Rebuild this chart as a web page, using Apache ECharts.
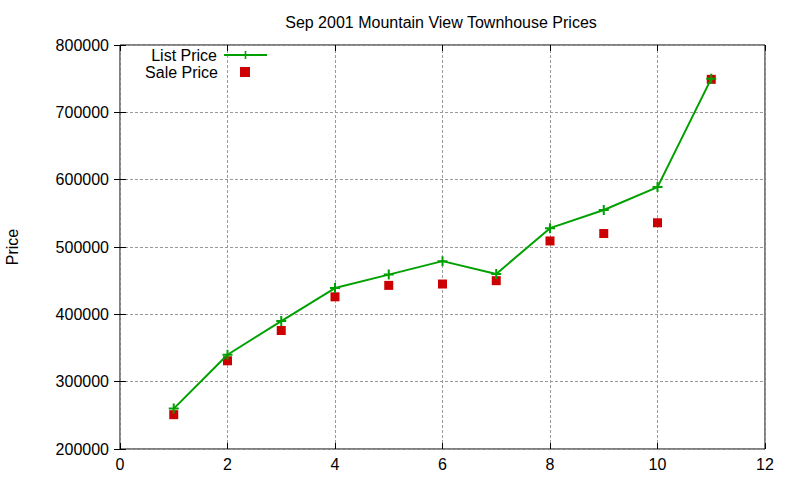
<!DOCTYPE html>
<html>
<head>
  <meta charset="UTF-8">
  <title>Sep 2001 Mountain View Townhouse Prices</title>
  <script src="https://cdn.jsdelivr.net/npm/echarts@6/dist/echarts.min.js"></script>
  <style>
    html, body { margin: 0; padding: 0; background: #fff; }
    #main { width: 800px; height: 480px; }
  </style>
</head>
<body>
  <div id="main"></div>
<script>
  // values
  const houseIndex = [1, 2, 3, 4, 5, 6, 7, 8, 9, 10, 11];
  const listPrice = [260000, 340000, 390000, 439000, 459000, 479000, 460000, 528000, 555000, 589000, 750000];
  const salePrice = [251000, 331000, 376000, 426000, 443000, 445000, 450000, 509000, 520000, 536000, 749000];

  const font = '"Liberation Sans", Arial, sans-serif';
  const green = '#00a000';
  const red = '#cc0000';
  const plus = 'path://M4,0h2v4h4v2h-4v4h-2v-4h-4v-2h4z';

  const gridLine = { show: true, lineStyle: { color: '#999', type: [3, 2], width: 1 } };
  const tickIn = { show: true, inside: true, length: 6, lineStyle: { color: '#000' } };
  const labelText = { color: '#000', fontSize: 16, fontFamily: font };

  const chart = echarts.init(document.getElementById('main'), null, { renderer: 'svg' });
  chart.setOption({
    animation: false,
    textStyle: { fontFamily: font },
    title: {
      text: 'Sep 2001 Mountain View Townhouse Prices',
      left: 436, top: 9, textAlign: 'center',
      textStyle: { fontFamily: font, fontSize: 16, fontWeight: 'normal', color: '#000' }
    },
    grid: {
      left: 120, right: 35, top: 45, bottom: 31, outerBoundsMode: 'none', containLabel: false,
      show: true, borderColor: '#000', borderWidth: 1
    },
    legend: [
      {
        data: ['List Price'], right: 527, top: 42, align: 'right',
        itemWidth: 43, itemHeight: 10, itemGap: 0,
        textStyle: { fontFamily: font, fontSize: 16, color: '#000', padding: [0, 2, 0, 0] }
      },
      {
        data: [{ name: 'Sale Price', icon: 'rect' }], right: 545, top: 59, align: 'right',
        itemWidth: 10, itemHeight: 10, itemGap: 0,
        textStyle: { fontFamily: font, fontSize: 16, color: '#000', padding: [0, 17, 0, 0] }
      }
    ],
    xAxis: [
      {
        type: 'value', min: 0, max: 12, interval: 2, position: 'bottom',
        axisLine: { show: false }, axisTick: tickIn, splitLine: gridLine,
        axisLabel: Object.assign({ margin: 7 }, labelText)
      },
      {
        type: 'value', min: 0, max: 12, interval: 2, position: 'top',
        axisLine: { show: false }, axisTick: tickIn, splitLine: { show: false },
        axisLabel: { show: false }
      }
    ],
    yAxis: [
      {
        type: 'value', min: 200000, max: 800000, interval: 100000, position: 'left',
        name: 'Price', nameLocation: 'middle', nameGap: 100, nameRotate: 90,
        nameTextStyle: labelText,
        axisLine: { show: false }, axisTick: tickIn, splitLine: gridLine,
        axisLabel: Object.assign({ margin: 11, formatter: v => String(v) }, labelText)
      },
      {
        type: 'value', min: 200000, max: 800000, interval: 100000, position: 'right',
        axisLine: { show: false }, axisTick: tickIn, splitLine: { show: false },
        axisLabel: { show: false }
      }
    ],
    series: [
      {
        name: 'List Price', type: 'line',
        data: houseIndex.map((x, i) => [x, listPrice[i]]),
        symbol: plus, symbolSize: 10, showAllSymbol: true,
        lineStyle: { color: green, width: 2 },
        itemStyle: { color: green }
      },
      {
        name: 'Sale Price', type: 'scatter',
        data: houseIndex.map((x, i) => [x, salePrice[i]]),
        symbol: 'rect', symbolSize: 9,
        itemStyle: { color: red, opacity: 1 }
      }
    ]
  });
</script>
</body>
</html>
